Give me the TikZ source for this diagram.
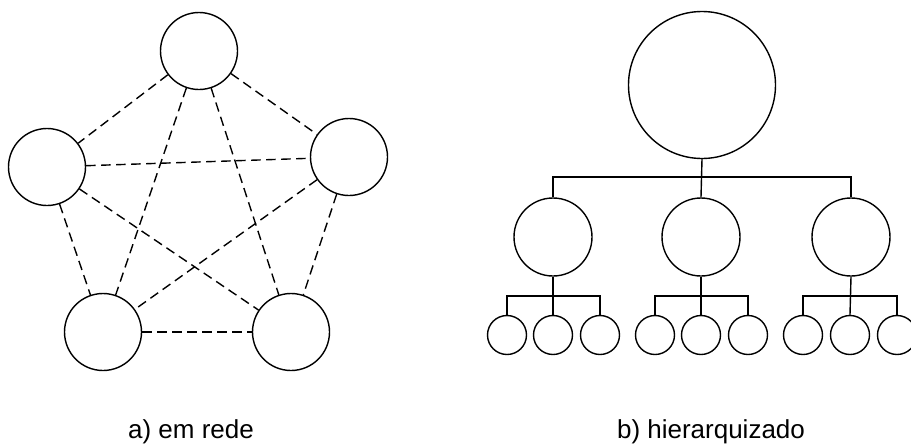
\documentclass[tikz,border=0pt]{standalone}
\usepackage{fontspec}
\setmainfont{Liberation Sans}
\begin{document}
\begin{tikzpicture}[x=1pt,y=-1pt,
  nd/.style={circle,draw,line width=1.4pt,inner sep=0pt,minimum size=77pt},
  big/.style={circle,draw,line width=1.4pt,inner sep=0pt,minimum size=147pt},
  mid/.style={circle,draw,line width=1.4pt,inner sep=0pt,minimum size=78pt},
  leaf/.style={circle,draw,line width=1.4pt,inner sep=0pt,minimum size=39pt},
  dedge/.style={line width=1.4pt,dash pattern=on 9.5pt off 5.5pt},
  tedge/.style={line width=1.4pt},
  lbl/.style={font=\fontsize{26}{30}\selectfont,inner sep=0pt}]
\clip (0,0) rectangle (911,445);
\fill[white] (0,0) rectangle (911,445);
% a) network
\node[nd] (t) at (199,51) {};
\node[nd] (l) at (47,167) {};
\node[nd] (r) at (349,157) {};
\node[nd] (bl) at (103,332) {};
\node[nd] (br) at (291,332) {};
\draw[dedge] (t) -- (l);
\draw[dedge] (t) -- (r);
\draw[dedge] (t) -- (bl);
\draw[dedge] (t) -- (br);
\draw[dedge] (l) -- (r);
\draw[dedge] (l) -- (bl);
\draw[dedge] (l) -- (br);
\draw[dedge] (r) -- (bl);
\draw[dedge] (r) -- (br);
\draw[dedge] (bl) -- (br);
\node[lbl] (la) at (191,432) {a) em rede};
% b) hierarchy
\node[big] (B) at (702,85) {};
\node[mid] (m1) at (553,237) {};
\node[mid] (m2) at (701,237) {};
\node[mid] (m3) at (851,237) {};
\coordinate (j0) at (702,177);
\draw[tedge] (B.south) -- (m2.north);
\draw[tedge] (m1.north) |- (j0) -| (m3.north);
\node[leaf] (s11) at (507,335) {};
\node[leaf] (s12) at (553,335) {};
\node[leaf] (s13) at (600,335) {};
\node[leaf] (s21) at (655,335) {};
\node[leaf] (s22) at (701,335) {};
\node[leaf] (s23) at (748,335) {};
\node[leaf] (s31) at (803,335) {};
\node[leaf] (s32) at (850,335) {};
\node[leaf] (s33) at (897,335) {};
\coordinate (j1) at (553,296);
\coordinate (j2) at (701,296);
\coordinate (j3) at (850,296);
\draw[tedge] (m1.south) -- (s12.north);
\draw[tedge] (s11.north) |- (j1) -| (s13.north);
\draw[tedge] (m2.south) -- (s22.north);
\draw[tedge] (s21.north) |- (j2) -| (s23.north);
\draw[tedge] (m3.south) -- (s32.north);
\draw[tedge] (s31.north) |- (j3) -| (s33.north);
\node[lbl] (lb) at (711,432) {b) hierarquizado};
\end{tikzpicture}
\end{document}
